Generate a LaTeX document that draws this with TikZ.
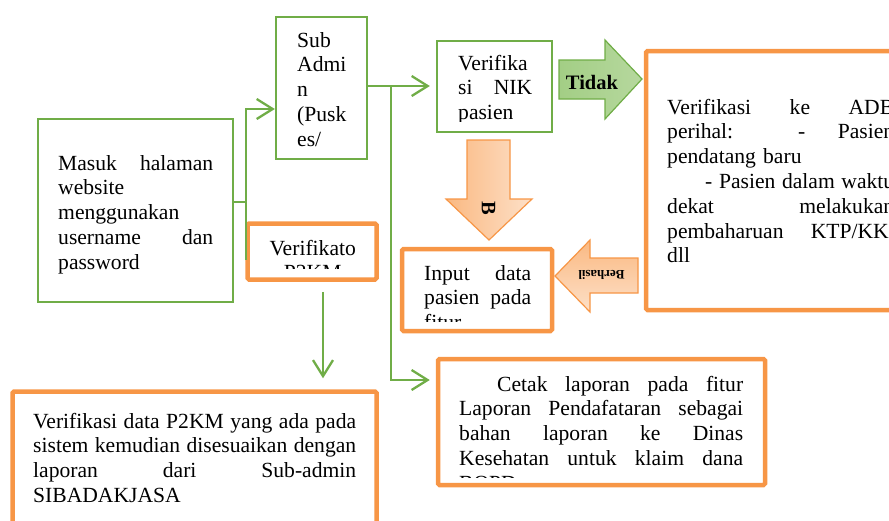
\documentclass[tikz,border=0pt]{standalone}
\usepackage{fontspec}
\setmainfont{Liberation Serif}
\usetikzlibrary{arrows.meta,positioning,calc}
\definecolor{flowGreen}{RGB}{112,173,71}
\definecolor{flowOrange}{RGB}{247,150,70}
\definecolor{tidakDark}{RGB}{163,206,133}
\definecolor{tidakLight}{RGB}{182,216,158}
\definecolor{peachDark}{RGB}{250,185,130}
\definecolor{peachLight}{RGB}{253,224,200}

\begin{document}
\begin{tikzpicture}[x=1pt, y=-1pt,
    gbox/.style={draw=flowGreen, line width=2.3pt, fill=white, inner sep=0pt},
    obox/.style={draw=flowOrange, line width=4.5pt, rounded corners=1.5pt, fill=white, inner sep=0pt},
    txt/.style={font=\fontsize{21.6}{24.8}\selectfont, inner sep=0pt, anchor=base west, align=left},
    btxt/.style={font=\fontsize{20.5}{24}\selectfont\bfseries, inner sep=0pt},
    wire/.style={draw=flowGreen, line width=2.3pt},
    link/.style={wire, -{Straight Barb[length=16pt, width=20pt]}},
    blockarrow/.style={draw=flowOrange, line width=1.2pt}
  ]
  \useasboundingbox (0,0) rectangle (889,520);
  \clip (0,0) rectangle (889,520);

  % boxes
  \node[gbox, minimum width=195pt, minimum height=183pt] (masuk) at (135.5,210.5) {};
  \node[gbox, minimum width=91pt, minimum height=142pt] (subadmin) at (321.5,88) {};
  \node[gbox, minimum width=115pt, minimum height=91pt] (nik) at (494.5,86.5) {};
  \node[obox, minimum width=129pt, minimum height=56pt] (verifikator) at (312,251.5) {};
  \node[obox, minimum width=364pt, minimum height=170pt] (p2km) at (194.5,476.5) {};
  \node[obox, minimum width=274pt, minimum height=259pt] (adb) at (783,180.5) {};
  \node[obox, minimum width=150pt, minimum height=82pt] (input) at (477,290) {};
  \node[obox, minimum width=327pt, minimum height=126pt] (cetak) at (601.5,422) {};

  % block arrows
  \draw[draw=flowGreen, line width=1.2pt, left color=tidakDark, right color=tidakLight]
    (559,60) -- (605,60) -- (605,40) -- (642,79) -- (605,119) -- (605,99) -- (559,99) -- cycle;
  \node[btxt, anchor=base] (tidak) at (592,89) {Tidak};
  \draw[blockarrow, left color=peachDark, right color=peachLight]
    (467,140) -- (510,140) -- (510,199) -- (532,199) -- (489,240) -- (446,199) -- (467,199) -- cycle;
  \node[btxt, rotate=-90] (b) at (488.5,208.5) {B};
  \draw[blockarrow, top color=peachDark, bottom color=peachLight]
    (638,258) -- (590,258) -- (590,240) -- (555,276) -- (590,312) -- (590,293) -- (638,293) -- cycle;
  \node[font=\fontsize{13}{15}\selectfont\bfseries, inner sep=0pt, rotate=180] (berhasil) at (601.5,275) {Berhasil};

  % texts
  \node[txt, text width=155pt] (masuk-t) at (58,170)
    {Masuk\hfill halaman\\ website\\ menggunakan\\ username\hfill dan\\ password};
  \node[txt, text width=66pt] (subadmin-t) at (297,47) {Sub\\ Admi\\ n\\ (Pusk\\ es/};
  \begin{scope}
    \clip (440,42) rectangle (551,121);
    \node[txt, text width=74pt] (nik-t) at (458,70) {Verifika\\ si\hfill NIK\\ pasien};
  \end{scope}
  \begin{scope}
    \clip (250,226) rectangle (374,268);
    \node[txt, text width=110pt, align=center] (verifikator-t) at (257.5,255) {Verifikato\\ P2KM};
  \end{scope}
  \node[txt, text width=227pt] (adb-t) at (667,114)
    {Verifikasi\hfill ke\hfill ADB\\ perihal:\hfill\hfill -\hfill Pasien\\ pendatang baru\\
     \hspace*{38pt}-\hfill Pasien\hfill dalam\hfill waktu\\ dekat\hfill melakukan\\
     pembaharuan\hfill KTP/KK,\\ dll};
  \begin{scope}
    \clip (404,251) rectangle (550,321);
    \node[txt, text width=107pt] (input-t) at (424,280) {Input\hfill data\\ pasien\hfill pada\\ fitur};
  \end{scope}
  \begin{scope}
    \clip (440,361) rectangle (763,477);
    \node[txt, text width=284pt] (cetak-t) at (459,391)
      {\hspace*{38pt}Cetak\hfill laporan\hfill pada\hfill fitur\\ Laporan\hfill Pendafataran\hfill sebagai\\
       bahan\hfill laporan\hfill ke\hfill Dinas\\ Kesehatan\hfill untuk\hfill klaim\hfill dana\\ BOPD};
  \end{scope}
  \node[txt, text width=323pt] (p2km-t) at (33,428)
    {Verifikasi\hfill data\hfill P2KM\hfill yang\hfill ada\hfill pada\\
     sistem\hfill kemudian\hfill disesuaikan\hfill dengan\\ laporan\hfill dari\hfill Sub-admin\\ SIBADAKJASA};

  % connectors
  \coordinate (split1) at (246,202);
  \coordinate (sa-in) at (subadmin.west |- 0,109);
  \coordinate (v-end) at (246,260);
  \draw[link] (masuk.east |- split1) -- (split1) |- (sa-in);
  \draw[wire] (split1) -- (v-end);
  \draw[link, shorten <=10pt, shorten >=11pt] (verifikator.south -| 323,0) -- (p2km.north -| 323,0);
  \coordinate (split2) at (391,86);
  \draw[link, shorten >=6pt] (subadmin.east |- split2) -- (nik.west |- split2);
  \draw[link, shorten >=6pt] (split2) |- (cetak.west |- 0,380);
\end{tikzpicture}
\end{document}
